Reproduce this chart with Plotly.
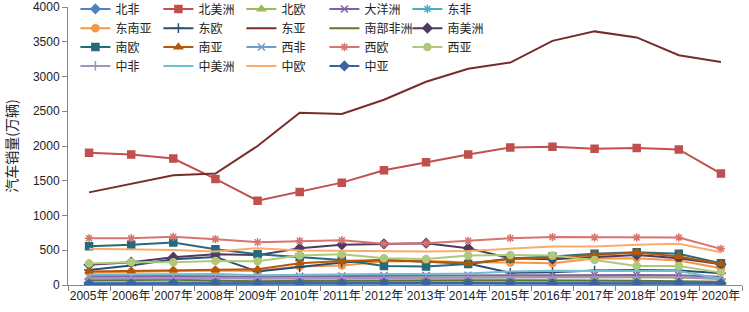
import plotly.graph_objects as go

years = [f"{y}年" for y in range(2005, 2021)]

north_africa = [35, 38, 42, 45, 40, 42, 40, 38, 40, 42, 38, 36, 35, 37, 36, 30]
north_america = [1902, 1877, 1819, 1526, 1213, 1338, 1473, 1650, 1766, 1877, 1980, 1990, 1960, 1970, 1950, 1603]
north_europe = [100, 105, 110, 105, 90, 95, 100, 98, 100, 105, 110, 115, 115, 112, 110, 95]
oceania = [125, 130, 130, 125, 115, 125, 130, 135, 135, 140, 140, 140, 145, 145, 140, 120]
east_africa = [10, 11, 12, 13, 12, 13, 14, 15, 15, 16, 15, 14, 14, 15, 15, 12]
southeast_asia = [180, 190, 200, 210, 202, 265, 279, 337, 347, 328, 322, 313, 380, 385, 351, 241]
east_europe = [217, 280, 371, 404, 193, 255, 322, 360, 340, 310, 175, 185, 207, 217, 207, 169]
east_asia = [1333, 1458, 1578, 1603, 2000, 2480, 2460, 2665, 2925, 3110, 3201, 3513, 3649, 3562, 3307, 3210]
southern_africa = [70, 75, 75, 65, 55, 60, 65, 70, 70, 70, 68, 62, 65, 62, 58, 45]
south_america = [290, 328, 400, 443, 430, 530, 578, 592, 602, 530, 385, 371, 400, 433, 385, 299]
south_europe = [558, 578, 611, 515, 443, 400, 360, 274, 265, 303, 380, 410, 448, 470, 448, 313]
south_asia = [193, 202, 217, 217, 226, 313, 347, 361, 337, 313, 375, 395, 433, 467, 409, 303]
west_africa = [5, 6, 7, 8, 7, 8, 8, 9, 9, 9, 8, 7, 7, 7, 7, 6]
west_europe = [674, 674, 693, 660, 616, 635, 645, 592, 602, 635, 674, 689, 684, 684, 684, 520]
west_asia = [310, 328, 328, 347, 342, 423, 443, 385, 375, 423, 433, 423, 361, 274, 274, 178]
central_africa = [95, 95, 100, 100, 90, 95, 95, 100, 105, 108, 110, 110, 112, 110, 108, 85]
central_america = [150, 155, 160, 160, 140, 150, 155, 160, 160, 165, 195, 205, 200, 205, 200, 90]
central_europe = [520, 516, 505, 481, 530, 495, 491, 481, 481, 491, 520, 553, 553, 578, 592, 472]
central_asia = [15, 18, 22, 25, 20, 22, 25, 28, 30, 28, 22, 18, 20, 22, 24, 20]

series = [
    ("北非", north_africa, "#4f81bd", "diamond", "legend"),
    ("北美洲", north_america, "#c0504d", "square", "legend"),
    ("北欧", north_europe, "#9bbb59", "triangle-up", "legend"),
    ("大洋洲", oceania, "#8064a2", "x-thin-open", "legend"),
    ("东非", east_africa, "#4bacc6", "asterisk-open", "legend"),
    ("东南亚", southeast_asia, "#f79646", "circle", "legend2"),
    ("东欧", east_europe, "#2c4d75", "cross-thin-open", "legend2"),
    ("东亚", east_asia, "#772c2a", None, "legend2"),
    ("南部非洲", southern_africa, "#5f7530", None, "legend2"),
    ("南美洲", south_america, "#4d3b62", "diamond", "legend2"),
    ("南欧", south_europe, "#276a7c", "square", "legend3"),
    ("南亚", south_asia, "#b65708", "triangle-up", "legend3"),
    ("西非", west_africa, "#729aca", "x-thin-open", "legend3"),
    ("西欧", west_europe, "#d9736f", "asterisk-open", "legend3"),
    ("西亚", west_asia, "#afc97a", "circle", "legend3"),
    ("中非", central_africa, "#a692c2", "cross-thin-open", "legend4"),
    ("中美洲", central_america, "#6fbdd1", None, "legend4"),
    ("中欧", central_europe, "#f9ab6b", None, "legend4"),
    ("中亚", central_asia, "#3a64a0", "diamond", "legend4"),
]

fig = go.Figure()
for name, vals, color, sym, lg in series:
    kw = dict(x=years, y=vals, name=name, legend=lg,
              line=dict(color=color, width=2))
    if sym is None:
        kw["mode"] = "lines"
    else:
        kw["mode"] = "lines+markers"
        kw["marker"] = dict(symbol=sym, size=7, color=color,
                            line=dict(color=color, width=1.5))
    fig.add_trace(go.Scatter(**kw))

legend_font = dict(family="Noto Sans CJK SC", size=12, color="#222")
common = dict(orientation="h", entrywidth=38, entrywidthmode="pixels",
              font=legend_font, bgcolor="rgba(0,0,0,0)", xanchor="left",
              yanchor="middle", x=0.011, itemwidth=30, tracegroupgap=0)
ys = [0.993, 0.924, 0.856, 0.788]
fig.update_layout(
    legend=dict(**common, y=ys[0]),
    legend2=dict(**common, y=ys[1]),
    legend3=dict(**common, y=ys[2]),
    legend4=dict(**common, y=ys[3]),
)

fig.update_layout(
    width=749, height=312,
    margin=dict(l=68, r=7, t=7, b=27, autoexpand=False),
    paper_bgcolor="white", plot_bgcolor="white",
    font=dict(family="Liberation Sans, Noto Sans CJK SC", size=12, color="#222"),
    xaxis=dict(type="category", tickson="boundaries", range=[-0.5, 15.5],
               showline=True, linecolor="#868686", linewidth=1,
               ticks="outside", ticklen=5, tickcolor="#868686",
               showgrid=False, zeroline=False, tickangle=0,
               tickfont=dict(family="Liberation Sans, Noto Sans CJK SC", size=12)),
    yaxis=dict(range=[0, 4000], dtick=500, showline=True, linecolor="#868686",
               linewidth=1, ticks="outside", ticklen=5, tickcolor="#868686",
               showgrid=False, zeroline=False,
               tickfont=dict(family="Liberation Sans", size=12),
               title=dict(text="汽车销量(万辆)", standoff=11,
                          font=dict(family="Noto Sans CJK SC", size=14))),
)

fig.write_html("out.html", config={"displayModeBar": False},
               post_script="document.body.style.margin='0';")
